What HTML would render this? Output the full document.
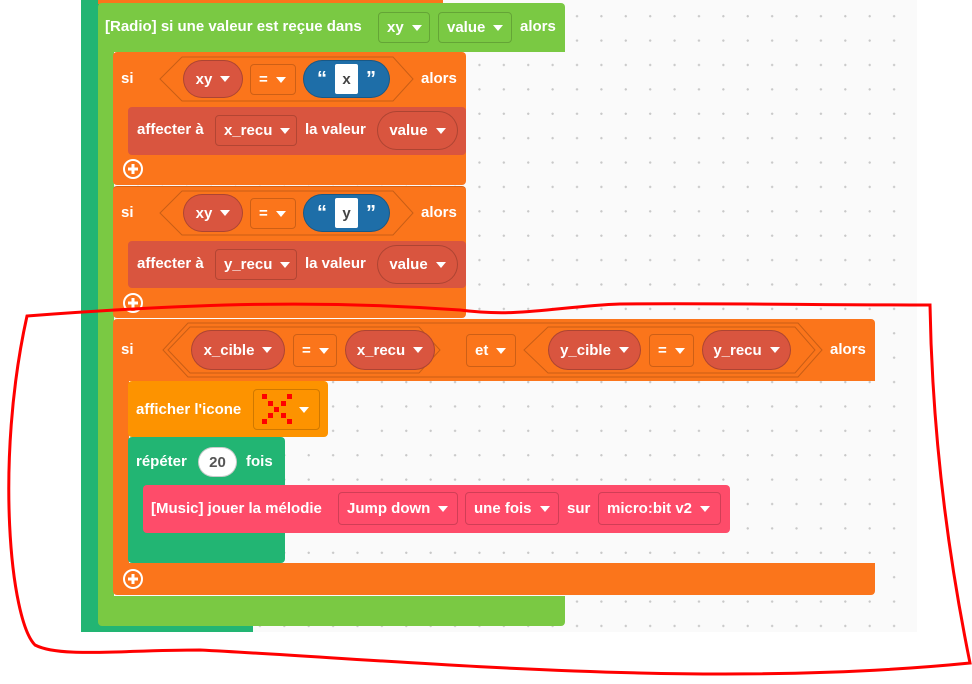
<!DOCTYPE html>
<html><head><meta charset="utf-8"><style>
*{margin:0;padding:0;box-sizing:border-box}
body{width:972px;height:684px;background:#fff;position:relative;overflow:hidden;font-family:"Liberation Sans",sans-serif;font-weight:bold;font-size:15px;color:#fff}
.a{position:absolute}
.t{position:absolute;line-height:16px;white-space:nowrap;transform:translateY(-8px)}
.dd{position:absolute;border:1px solid rgba(0,0,0,.18);border-radius:4px;display:flex;align-items:center;padding-left:8px;white-space:nowrap}
.p{position:absolute;border:1px solid rgba(0,0,0,.2);border-radius:20px;display:flex;align-items:center;justify-content:center;white-space:nowrap}
.ar{display:inline-block;width:0;height:0;border-left:5px solid transparent;border-right:5px solid transparent;border-top:6px solid #fff;margin-left:8px}
.O{background:#fb751b}.R{background:#d9553f}.G{background:#7ac943}.D{background:#22b573}
</style></head><body>
<div class="a" style="left:81px;top:0;width:836px;height:632px;background-color:#fafafa;background-image:radial-gradient(circle,#c8c8c8 1px,transparent 1.3px);background-size:24.4px 24.4px;background-position:-4px 4px"></div>
<div class="a D" style="left:81px;top:0;width:18px;height:632px"></div>
<div class="a D" style="left:81px;top:620px;width:172px;height:12px"></div>
<div class="a O" style="left:98px;top:0;width:345px;height:4px"></div>
<div class="a G" style="left:98px;top:3px;width:467px;height:49px;border-radius:4px 4px 0 0"></div>
<div class="a G" style="left:98px;top:50px;width:16px;height:550px"></div>
<div class="a G" style="left:98px;top:596px;width:467px;height:30px;border-radius:0 0 4px 4px"></div>
<div class="t" style="left:105px;top:27px">[Radio] si une valeur est reçue dans</div>
<div class="dd" style="left:378px;top:12px;width:52px;height:31px">xy<span class="ar"></span></div>
<div class="dd" style="left:438px;top:12px;width:74px;height:31px">value<span class="ar"></span></div>
<div class="t" style="left:520px;top:27px">alors</div>

<div class="a O" style="left:113px;top:52px;width:353px;height:133px;border-radius:4px"></div>
<div class="t" style="left:121px;top:79px">si</div>
<svg class="a" style="left:0;top:0" width="972" height="684"><polygon points="160,79 182,57 393,57 413,79 393,101 182,101" fill="none" stroke="rgba(0,0,0,.2)"/></svg>
<div class="p R" style="left:183px;top:60px;width:60px;height:38px">xy<span class="ar"></span></div>
<div class="dd" style="left:250px;top:64px;width:46px;height:31px">=<span class="ar"></span></div>
<div class="p" style="left:303px;top:60px;width:87px;height:38px;background:#1e6ea8"><span style="font-size:20px">“</span><span style="background:#fff;color:#444;width:23px;height:30px;display:inline-flex;align-items:center;justify-content:center;margin:0 8px;border-radius:2px">x</span><span style="font-size:20px">”</span></div>
<div class="t" style="left:421px;top:79px">alors</div>
<div class="a R" style="left:128px;top:107px;width:338px;height:48px;border-radius:4px"></div>
<div class="t" style="left:137px;top:130px">affecter à</div>
<div class="dd" style="left:215px;top:115px;width:82px;height:31px">x_recu<span class="ar"></span></div>
<div class="t" style="left:305px;top:130px">la valeur</div>
<div class="p R" style="left:377px;top:111px;width:81px;height:39px">value<span class="ar"></span></div>

<div class="a O" style="left:113px;top:186px;width:353px;height:132px;border-radius:4px;border-top:1px solid rgba(0,0,0,.15)"></div>
<div class="t" style="left:121px;top:213px">si</div>
<svg class="a" style="left:0;top:0" width="972" height="684"><polygon points="160,213 182,191 393,191 413,213 393,235 182,235" fill="none" stroke="rgba(0,0,0,.2)"/></svg>
<div class="p R" style="left:183px;top:194px;width:60px;height:38px">xy<span class="ar"></span></div>
<div class="dd" style="left:250px;top:198px;width:46px;height:31px">=<span class="ar"></span></div>
<div class="p" style="left:303px;top:194px;width:87px;height:38px;background:#1e6ea8"><span style="font-size:20px">“</span><span style="background:#fff;color:#444;width:23px;height:30px;display:inline-flex;align-items:center;justify-content:center;margin:0 8px;border-radius:2px">y</span><span style="font-size:20px">”</span></div>
<div class="t" style="left:421px;top:213px">alors</div>
<div class="a R" style="left:128px;top:241px;width:338px;height:47px;border-radius:4px"></div>
<div class="t" style="left:137px;top:264px">affecter à</div>
<div class="dd" style="left:215px;top:249px;width:82px;height:31px">y_recu<span class="ar"></span></div>
<div class="t" style="left:305px;top:264px">la valeur</div>
<div class="p R" style="left:377px;top:245px;width:81px;height:39px">value<span class="ar"></span></div>

<div class="a O" style="left:113px;top:319px;width:762px;height:62px;border-radius:4px 4px 0 0"></div>
<div class="a O" style="left:113px;top:380px;width:16px;height:190px"></div>
<div class="a O" style="left:113px;top:563px;width:762px;height:32px;border-radius:0 0 4px 4px"></div>
<div class="t" style="left:121px;top:350px">si</div>
<svg class="a" style="left:0;top:0" width="972" height="684">
<polygon points="163,350 188,323 798,323 822,350 798,377 188,377" fill="none" stroke="rgba(0,0,0,.2)"/>
<polygon points="168,350 190,327 419,327 440,350 419,373 190,373" fill="none" stroke="rgba(0,0,0,.2)"/>
<polygon points="524,350 548,327 795,327 815,350 795,373 548,373" fill="none" stroke="rgba(0,0,0,.2)"/>
</svg>
<div class="p R" style="left:191px;top:330px;width:94px;height:40px">x_cible<span class="ar"></span></div>
<div class="dd" style="left:293px;top:334px;width:44px;height:33px">=<span class="ar"></span></div>
<div class="p R" style="left:345px;top:330px;width:90px;height:40px">x_recu<span class="ar"></span></div>
<div class="dd" style="left:466px;top:334px;width:50px;height:33px">et<span class="ar"></span></div>
<div class="p R" style="left:548px;top:330px;width:93px;height:40px">y_cible<span class="ar"></span></div>
<div class="dd" style="left:649px;top:334px;width:45px;height:33px">=<span class="ar"></span></div>
<div class="p R" style="left:702px;top:330px;width:89px;height:40px">y_recu<span class="ar"></span></div>
<div class="t" style="left:830px;top:350px">alors</div>
<div class="a" style="left:128px;top:381px;width:200px;height:56px;background:#fd9300;border-radius:4px"></div>
<div class="t" style="left:136px;top:410px">afficher l'icone</div>
<div class="dd" style="left:253px;top:389px;width:67px;height:41px;padding-left:0">
<svg width="65" height="39"><g fill="#f00"><rect x="8" y="4" width="5" height="5"/><rect x="33" y="4" width="5" height="5"/><rect x="14" y="11" width="5" height="5"/><rect x="27" y="11" width="5" height="5"/><rect x="20" y="17" width="5" height="5"/><rect x="14" y="23" width="5" height="5"/><rect x="27" y="23" width="5" height="5"/><rect x="8" y="29" width="5" height="5"/><rect x="33" y="29" width="5" height="5"/></g><polygon points="45,17 55,17 50,23" fill="#fff"/></svg></div>
<div class="a D" style="left:128px;top:437px;width:157px;height:126px;border-radius:4px"></div>
<div class="t" style="left:136px;top:462px">répéter</div>
<div class="p" style="left:198px;top:447px;width:39px;height:30px;background:#fff;color:#555">20</div>
<div class="t" style="left:246px;top:462px">fois</div>
<div class="a" style="left:143px;top:485px;width:587px;height:48px;background:#fe4c6a;border-radius:4px"></div>
<div class="t" style="left:151px;top:509px">[Music] jouer la mélodie</div>
<div class="dd" style="left:338px;top:492px;width:120px;height:33px">Jump down<span class="ar"></span></div>
<div class="dd" style="left:465px;top:492px;width:94px;height:33px">une fois<span class="ar"></span></div>
<div class="t" style="left:567px;top:509px">sur</div>
<div class="dd" style="left:598px;top:492px;width:123px;height:33px">micro:bit v2<span class="ar"></span></div>

<svg class="a" style="left:0;top:0" width="972" height="684"><g fill="none" stroke="#fff" stroke-width="2"><circle cx="133" cy="169" r="9"/><circle cx="133" cy="303" r="9"/><circle cx="133" cy="579" r="9"/></g>
<g stroke="#fff" stroke-width="3"><path d="M128 169h10M133 164v10M128 303h10M133 298v10M128 579h10M133 574v10"/></g>
<path d="M27 316 C200 303 320 300 460 310 C520 318 560 306 620 304 C720 303 820 305 930 305 C932 420 945 540 970 663 C700 690 400 660 200 650 C120 650 60 658 35 645 C10 620 -5 460 27 316 Z" fill="none" stroke="#f00" stroke-width="3"/>
</svg>
</body></html>
